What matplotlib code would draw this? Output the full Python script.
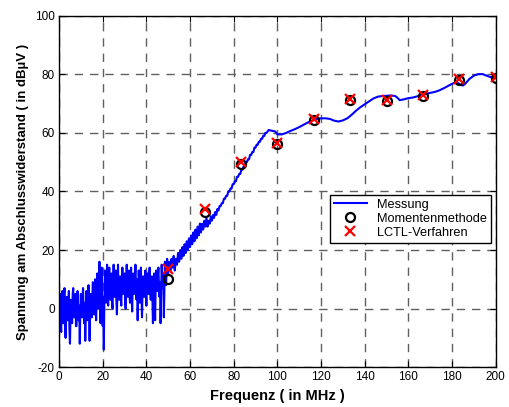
import matplotlib.pyplot as plt

plt.rcParams['font.family'] = ['Liberation Sans', 'DejaVu Sans']
plt.rcParams['axes.unicode_minus'] = False

# Messung: verrauschter Bereich ab 0 MHz (Schritt 0.25 MHz)
u_rausch = [
    -3, 2, 5, -6, -8, 3, 6, -2, -5, 4, 7, -4, -10, 1, 4, -3, -4, 2, 6, -7,
    -12, -2, 3, -4, -5, 5, 7, -1, -3, 3, 5, -6, -6, 2, 6, -3, -4, 1, -12, 0,
    5, -2, -3, 4, 7, -1, -5, 2, -11, -3, 6, 0, -4, 3, 8, -2, -11, -1, 5, 1,
    -3, 4, 9, 0, -2, 6, 10, -1, -4, 5, 12, 2, 0, 8, 16, 3, -5, 6, 14, -2,
    -6, 4, -14, 3, 13, 5, 2, 10, 15, 4, 1, 9, 14, 6, 3, 11, 12, 2, 0, 8,
    15, 5, 4, 12, 13, 3, -2, 7, 15, 6, 3, 10, 11, 4, 1, 9, 14, 7, 5, 10,
    12, 3, 0, 9, 15, 6, 4, 12, 13, 5, 2, 8, 14, 4, -1, 9, 12, 6, 5, 11,
    15, 7, 3, 10, -4, 6, 13, 8, 2, 9, 14, 5, -3, 7, 11, 6, 4, 10, 13, 5,
    1, 8, 12, 6, 5, 11, 14, 7, 3, 9, 11, 4, -5, 6, 12, 3, -4, 8, 13, 7,
    6, 11, 14, 8, 4, 9, -5, 5, 15, 10, 7, 12, -3, 6, 16, 11, 8, 13, 17, 12,
]
f_rausch = [i * 0.25 for i in range(len(u_rausch))]

# Messung: Anstieg ab 50 MHz (Schritt 0.5 MHz)
u_anstieg = [
    12, 16, 13, 17, 14, 18, 13, 17, 15, 19, 16, 20, 17, 21, 18, 22,
    19, 23, 20, 24, 21, 25, 22, 26, 23, 27, 24, 28, 25, 29, 26, 29,
    27, 30, 28, 31, 28, 30, 29, 31.5, 30, 32, 31, 33, 32, 34, 33.5, 35,
    35, 36, 36, 37.5, 37.5, 38.5, 38.5, 40, 40, 41, 41, 42.5, 42.5, 43.5,
    43.5, 45, 45, 46, 46, 47.5, 47.5, 48.5, 48.5, 50, 50, 51, 51, 52.5,
    52.5, 53.5, 53.5, 55, 55, 56, 56, 57, 57, 58, 58, 59, 59, 60,
    60, 60.5, 61,
]
f_anstieg = [50 + i * 0.5 for i in range(len(u_anstieg))]

# Messung: glatter Bereich 99 .. 200 MHz
f_glatt = [99, 100, 102, 104, 106, 108, 110, 112, 114, 116, 118, 120, 122,
           124, 126, 128, 130, 132, 134, 136, 138, 140, 142, 144, 146, 148,
           150, 152, 154, 155, 156, 158, 160, 162, 164, 166, 168, 170, 172,
           174, 176, 178, 180, 182, 184, 185, 186, 188, 190, 192, 194, 196,
           198, 200]
u_glatt = [60.5, 59.5, 59.5, 60, 60.7, 61.3, 62, 62.8, 63.6, 64.2, 64.8, 65,
           65, 64.8, 64.2, 63.9, 64.3, 65, 66.2, 67.6, 68.8, 69.8, 70.8, 71.8,
           72.4, 72.6, 72.7, 72.8, 72.6, 72, 71.2, 71.5, 71.9, 72.1, 72.5,
           72.9, 73.3, 73.7, 74, 74.5, 75.2, 76, 76.8, 77.4, 76.4, 76.2, 76.8,
           78.5, 79.6, 80.1, 80.1, 79.5, 79, 78.7]

# Berechnete Punkte
f_sim = [50, 66.67, 83.33, 100, 116.67, 133.33, 150, 166.67, 183.33, 200]
u_mom = [10, 33, 49.4, 56.2, 64.4, 71.3, 71, 72.6, 78.1, 78.8]
u_lctl = [13.5, 34, 50, 56.6, 64.6, 71.6, 71.2, 73, 78.5, 79.1]

f_mess = f_rausch + f_anstieg + f_glatt
u_mess = u_rausch + u_anstieg + u_glatt

fig = plt.figure(figsize=(5.09, 4.07), dpi=100)
ax = fig.add_axes([0.116, 0.098, 0.858, 0.863])

ax.plot(f_mess, u_mess, color='blue', lw=1.5, label='Messung')
ax.plot(f_sim, u_mom, 'o', mfc='none', mec='black', mew=1.6, ms=6.5,
        label='Momentenmethode')
ax.plot(f_sim, u_lctl, 'x', color='red', mew=1.6, ms=6.5,
        label='LCTL-Verfahren')

ax.set_xlim(0, 200)
ax.set_ylim(-20, 100)
ax.set_xticks(range(0, 201, 20))
ax.set_yticks(range(-20, 101, 20))
ax.tick_params(direction='in', top=True, right=True, labelsize=8.5, length=4,
               pad=3)
ax.grid(True, color='#606060', linestyle=(0, (6, 5)), lw=1.0)
for s in ax.spines.values():
    s.set_linewidth(1.0)

ax.set_xlabel('Frequenz ( in MHz )', fontsize=10.5, fontweight='bold')
ax.set_ylabel('Spannung am Abschlusswiderstand ( in dBµV )', fontsize=9.5,
              fontweight='bold')

leg = ax.legend(loc='upper left', bbox_to_anchor=(0.62, 0.49), fontsize=9.2,
                fancybox=False, framealpha=1, edgecolor='black',
                borderpad=0.3, labelspacing=0.15, handlelength=2.6,
                borderaxespad=0)
leg.get_frame().set_linewidth(1.0)

fig.savefig('out.png', dpi=100)
